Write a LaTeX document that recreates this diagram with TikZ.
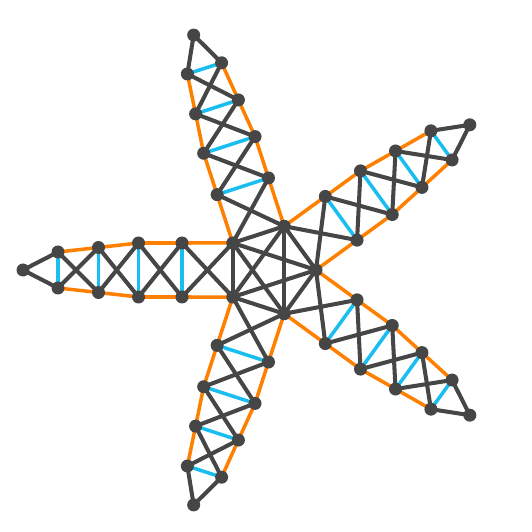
\documentclass[tikz,border=0pt]{standalone}
\usepackage{tikz}
\usetikzlibrary{calc}
\usepackage{xcolor}

\definecolor{edgegray}{RGB}{70,70,70}
\definecolor{railorange}{RGB}{255,128,0}
\definecolor{rungblue}{RGB}{25,190,240}

\begin{document}
\begin{tikzpicture}[x=0.02cm,y=0.02cm,
    rail/.style={railorange, line width=2pt, line cap=round},
    rung/.style={rungblue, line width=2pt},
    brace/.style={edgegray, line width=2.3pt},
    dot/.style={fill=edgegray}]
                    \useasboundingbox (0,0) rectangle (532,532);
                    \coordinate (c) at (270,262);

                    % Central pentagon
                    \foreach \k in {0,...,4}
                        \coordinate (p\k) at ($(c)+(72*\k:46)$);

                    % Arm points (one arm per pentagon side)
                    \foreach \k in {0,...,4}{
                        \pgfmathsetmacro\a{36+72*\k}
                        \foreach \i/\d/\w in {1/88/27,2/131.5/27,3/171.5/22.5,4/212/18}{
                            \coordinate (L\k-\i) at ($(c)+(\a:\d)+(\a+90:\w)$);
                            \coordinate (R\k-\i) at ($(c)+(\a:\d)+(\a-90:\w)$);
                        }
                        \coordinate (T\k) at ($(c)+(\a:247)$);
                    }

                    % Rails (orange) and rungs (blue)
                    \foreach \k in {0,...,4}{
                        \pgfmathtruncatemacro\n{mod(\k+1,5)}
                        \draw[rail] (p\n) -- (L\k-1) -- (L\k-2) -- (L\k-3) -- (L\k-4);
                        \draw[rail] (p\k) -- (R\k-1) -- (R\k-2) -- (R\k-3) -- (R\k-4);
                        \foreach \i in {1,...,4}
                            \draw[rung] (L\k-\i) -- (R\k-\i);
                    }

                    % Cross braces and tips
                    \foreach \k in {0,...,4}{
                        \pgfmathtruncatemacro\n{mod(\k+1,5)}
                        \draw[brace] (p\n) -- (R\k-1);
                        \draw[brace] (p\k) -- (L\k-1);
                        \foreach \i/\j in {1/2,2/3,3/4}{
                            \draw[brace] (L\k-\i) -- (R\k-\j);
                            \draw[brace] (R\k-\i) -- (L\k-\j);
                        }
                        \draw[brace] (L\k-4) -- (T\k) -- (R\k-4);
                    }

                    % Pentagon: every pair joined
                    \foreach \k in {0,...,3}{
                        \pgfmathtruncatemacro\s{\k+1}
                        \foreach \m in {\s,...,4}
                            \draw[brace] (p\k) -- (p\m);
                    }

                    % Joints
                    \foreach \k in {0,...,4}{
                        \fill[dot] (p\k) circle (6.5);
                        \fill[dot] (T\k) circle (6.5);
                        \foreach \i in {1,...,4}{
                            \fill[dot] (L\k-\i) circle (6.5);
                            \fill[dot] (R\k-\i) circle (6.5);
                        }
                    }
                \end{tikzpicture}
\end{document}
